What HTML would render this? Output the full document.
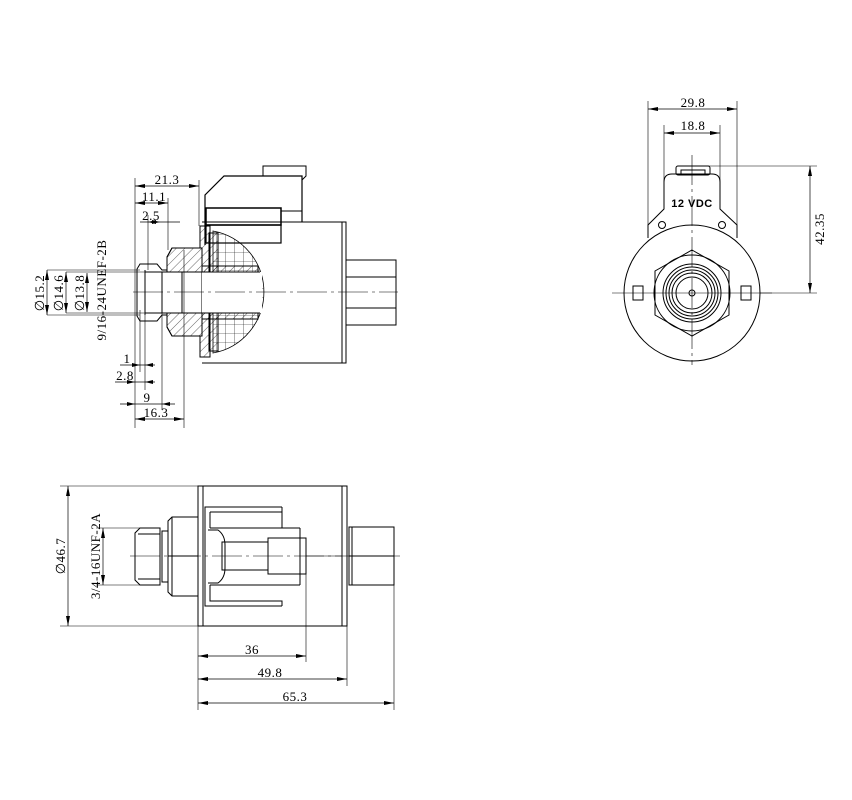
<!DOCTYPE html>
<html><head><meta charset="utf-8"><style>
html,body{margin:0;padding:0;background:#fff}
svg{display:block}
text{font-family:"Liberation Serif",serif;font-size:13px;fill:#000;letter-spacing:0.5px}
</style></head><body>
<svg width="852" height="800" viewBox="0 0 852 800" xmlns="http://www.w3.org/2000/svg">
<defs>
<marker id="a" viewBox="0 0 10 4" refX="10" refY="2" markerWidth="10" markerHeight="4" orient="auto-start-reverse" markerUnits="userSpaceOnUse"><path d="M0,0L10,2L0,4z" fill="#000"/></marker>
<pattern id="h" width="6" height="6" patternUnits="userSpaceOnUse" patternTransform="rotate(45)"><line x1="0" y1="0" x2="0" y2="6" stroke="#000" stroke-width="0.6"/></pattern>
<pattern id="g" width="9" height="9" patternUnits="userSpaceOnUse"><path d="M0,0H9M0,0V9" stroke="#000" stroke-width="0.6" fill="none"/></pattern>
</defs>
<g fill="none" stroke="#000" stroke-width="1">
<path d="M202,222H346V363H202"/>
<line x1="342" y1="222" x2="342" y2="363"/>
<path d="M205,245V195L224,176H302V222" stroke-width="1.2"/>
<rect x="206" y="208" width="75" height="17" stroke-width="1.5"/>
<rect x="206" y="225" width="75" height="18" stroke-width="1.2"/>
<path d="M263,176V166H306V176L302,180"/>
<line x1="281" y1="211" x2="302" y2="211"/>
<rect x="346" y="260" width="50" height="65"/>
<line x1="346" y1="277" x2="396" y2="277"/>
<line x1="346" y1="308" x2="396" y2="308"/>
<path d="M213,231A62,62 0 0 1 213,353Z" fill="url(#g)" stroke-width="0.8"/>
<rect x="200" y="226" width="10" height="131" fill="url(#h)"/>
<rect x="209" y="233" width="9" height="118" fill="url(#h)"/>
<path d="M140,264H157L162,270H167V257L172,248H202V336H172L167,327V315H162L157,321H140L137,316V269Z" fill="#fff"/>
<path d="M167,257L172,248H202V272H167Z" fill="url(#h)"/>
<path d="M167,327L172,336H202V313H167Z" fill="url(#h)"/>
<rect x="202" y="266" width="56" height="6" fill="url(#h)"/>
<rect x="202" y="313" width="56" height="6" fill="url(#h)"/>
<rect x="202" y="272" width="60" height="41" fill="#fff" stroke="none"/>
<line x1="145" y1="272" x2="260" y2="272"/>
<line x1="145" y1="313" x2="260" y2="313"/>
<line x1="145" y1="270" x2="145" y2="315"/>
<line x1="182" y1="272" x2="182" y2="313"/>
<line x1="162" y1="272" x2="162" y2="313"/>
<line x1="133" y1="292" x2="398" y2="292" stroke-width="0.6" stroke-dasharray="30,4,3,4"/>
<g stroke-width="0.6">
<line x1="135" y1="178" x2="135" y2="428"/>
<line x1="199" y1="180" x2="199" y2="226"/>
<line x1="168" y1="198" x2="168" y2="250"/>
<line x1="184" y1="250" x2="184" y2="428"/>
<line x1="162" y1="310" x2="162" y2="410"/>
<line x1="148" y1="215" x2="148" y2="270"/>
<line x1="145" y1="310" x2="145" y2="390"/>
<line x1="140" y1="310" x2="140" y2="372"/>
<line x1="47" y1="270" x2="140" y2="270"/>
<line x1="47" y1="315" x2="140" y2="315"/>
<line x1="66" y1="272" x2="145" y2="272"/>
<line x1="66" y1="313" x2="145" y2="313"/>
</g>
<g stroke-width="0.7" marker-start="url(#a)" marker-end="url(#a)">
<line x1="135" y1="186" x2="199" y2="186"/>
<line x1="135" y1="203" x2="168" y2="203"/>
<line x1="47" y1="270" x2="47" y2="315"/>
<line x1="66" y1="272" x2="66" y2="313"/>
<line x1="87" y1="273" x2="87" y2="312"/>
<line x1="135" y1="419" x2="184" y2="419"/>
</g>
<g stroke-width="0.7">
<line x1="140" y1="222" x2="180" y2="222"/>
<line x1="120" y1="365" x2="155" y2="365"/>
<line x1="115" y1="382" x2="155" y2="382"/>
<line x1="120" y1="404" x2="175" y2="404"/>
</g>
<g fill="#000" stroke="none">
<path d="M148,222l8,-2v4z"/><path d="M160,222l-8,-2v4z"/>
<path d="M140,365l-8,-2v4z"/><path d="M145,365l8,-2v4z"/>
<path d="M135,382l-8,-2v4z"/><path d="M145,382l8,-2v4z"/>
<path d="M135,404l-8,-2v4z"/><path d="M162,404l8,-2v4z"/>
</g>
<path d="M648,238V225L664,209V182Q664,174 672,174H712Q720,174 720,182V209L737,225V238"/>
<rect x="676" y="166" width="34" height="9" rx="2"/>
<rect x="681" y="170" width="24" height="5"/>
<circle cx="662" cy="225" r="3.5"/><circle cx="722" cy="225" r="3.5"/>
<circle cx="692" cy="293" r="68" fill="#fff"/>
<path d="M692,250L729,271V315L692,336L655,315V271Z"/>
<circle cx="692" cy="293" r="38"/>
<circle cx="692" cy="293" r="29"/>
<circle cx="692" cy="293" r="26"/>
<circle cx="692" cy="293" r="23"/>
<circle cx="692" cy="293" r="20"/>
<circle cx="692" cy="293" r="16"/>
<circle cx="692" cy="293" r="3"/>
<rect x="633" y="286" width="10" height="14"/>
<rect x="741" y="286" width="10" height="14"/>
<line x1="612" y1="293" x2="772" y2="293" stroke-width="0.6"/>
<line x1="692" y1="155" x2="692" y2="365" stroke-width="0.6" stroke-dasharray="30,4,3,4"/>
<g stroke-width="0.6">
<line x1="648" y1="101" x2="648" y2="238"/>
<line x1="737" y1="101" x2="737" y2="238"/>
<line x1="664" y1="125" x2="664" y2="209"/>
<line x1="720" y1="125" x2="720" y2="209"/>
<line x1="705" y1="166" x2="817" y2="166"/>
<line x1="760" y1="293" x2="817" y2="293"/>
</g>
<g stroke-width="0.7" marker-start="url(#a)" marker-end="url(#a)">
<line x1="648" y1="109" x2="737" y2="109"/>
<line x1="664" y1="133" x2="720" y2="133"/>
<line x1="810" y1="166" x2="810" y2="293"/>
</g>
<rect x="198" y="486" width="149" height="140"/>
<line x1="203" y1="486" x2="203" y2="626"/>
<line x1="342" y1="486" x2="342" y2="626"/>
<path d="M282,507H205V606H282"/>
<path d="M210,512H282V507M210,512V528M210,585V601H282V606M282,528V512"/>
<line x1="210" y1="528" x2="300" y2="528"/>
<line x1="210" y1="585" x2="300" y2="585"/>
<line x1="300" y1="528" x2="300" y2="585"/>
<path d="M208,530H218Q225,535 225,545V568Q225,578 218,583H208"/>
<rect x="222" y="542" width="46" height="28"/>
<rect x="268" y="538" width="38" height="36"/>
<line x1="306" y1="556" x2="342" y2="556" stroke-width="0.6"/>
<path d="M168,521L172,517H198V596H172L168,592Z"/>
<line x1="168" y1="556" x2="198" y2="556"/>
<line x1="172" y1="517" x2="172" y2="596"/>
<path d="M162,531H168V582H162Z"/>
<path d="M140,528H160V585H140L135,580V533Z"/>
<line x1="138" y1="534" x2="160" y2="534"/>
<line x1="138" y1="579" x2="160" y2="579"/>
<path d="M349,527H394V585H349Z"/>
<line x1="349" y1="556" x2="394" y2="556"/>
<line x1="352" y1="527" x2="352" y2="585"/>
<line x1="130" y1="556" x2="400" y2="556" stroke-width="0.6" stroke-dasharray="30,4,3,4"/>
<g stroke-width="0.6">
<line x1="60" y1="486" x2="198" y2="486"/>
<line x1="60" y1="626" x2="198" y2="626"/>
<line x1="96" y1="528" x2="140" y2="528"/>
<line x1="96" y1="585" x2="140" y2="585"/>
<line x1="198" y1="626" x2="198" y2="710"/>
<line x1="306" y1="574" x2="306" y2="662"/>
<line x1="347" y1="626" x2="347" y2="686"/>
<line x1="394" y1="585" x2="394" y2="710"/>
</g>
<g stroke-width="0.7" marker-start="url(#a)" marker-end="url(#a)">
<line x1="68" y1="486" x2="68" y2="626"/>
<line x1="103" y1="528" x2="103" y2="585"/>
<line x1="198" y1="656" x2="306" y2="656"/>
<line x1="198" y1="679" x2="347" y2="679"/>
<line x1="198" y1="703" x2="394" y2="703"/>
</g>
</g>
<text x="167" y="184" text-anchor="middle">21.3</text>
<text x="154" y="201" text-anchor="middle">11.1</text>
<text x="151" y="220" text-anchor="middle">2.5</text>
<text x="127" y="363" text-anchor="middle">1</text>
<text x="125" y="380" text-anchor="middle">2.8</text>
<text x="147" y="402" text-anchor="middle">9</text>
<text x="156" y="417" text-anchor="middle">16.3</text>
<text transform="translate(44,293) rotate(-90)" text-anchor="middle">∅15.2</text>
<text transform="translate(63,293) rotate(-90)" text-anchor="middle">∅14.6</text>
<text transform="translate(84,293) rotate(-90)" text-anchor="middle">∅13.8</text>
<text transform="translate(106,290) rotate(-90)" text-anchor="middle">9/16-24UNEF-2B</text>
<text x="693" y="107" text-anchor="middle">29.8</text>
<text x="693" y="130" text-anchor="middle">18.8</text>
<text x="692" y="207" text-anchor="middle" style="font-family:'Liberation Sans',sans-serif;font-weight:bold;font-size:11px">12  VDC</text>
<text transform="translate(824,229) rotate(-90)" text-anchor="middle">42.35</text>
<text transform="translate(65,556) rotate(-90)" text-anchor="middle">∅46.7</text>
<text transform="translate(100,556) rotate(-90)" text-anchor="middle">3/4-16UNF-2A</text>
<text x="252" y="654" text-anchor="middle">36</text>
<text x="270" y="677" text-anchor="middle">49.8</text>
<text x="295" y="701" text-anchor="middle">65.3</text>
</svg>
</body></html>
